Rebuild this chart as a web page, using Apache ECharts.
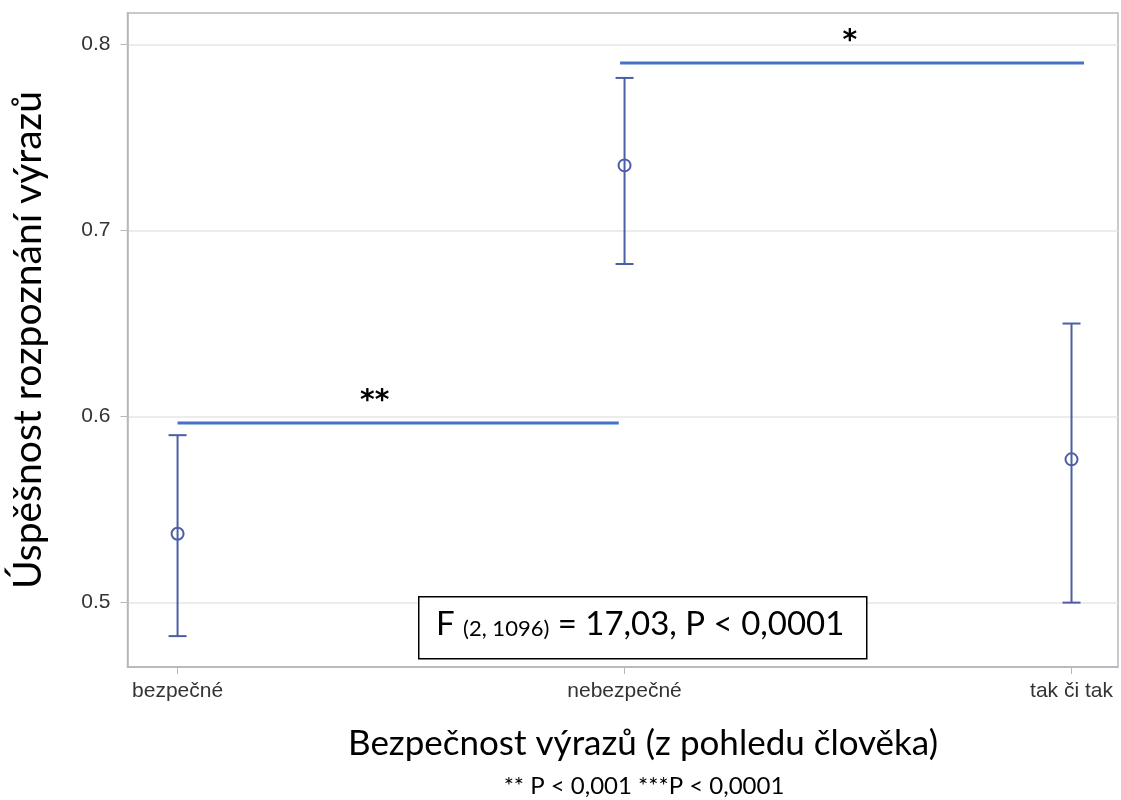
<!DOCTYPE html>
<html><head><meta charset="utf-8">
<script src="https://cdn.jsdelivr.net/npm/echarts@6/dist/echarts.min.js"></script>
<style>html,body{margin:0;padding:0;background:#fff}#c{width:1121px;height:800px}</style>
</head><body><div id="c"></div>
<script>
const categories = ['bezpečné', 'nebezpečné', 'tak či tak'];
const means = [0.537, 0.735, 0.577];
const lowers = [0.482, 0.682, 0.500];
const uppers = [0.590, 0.782, 0.650];
const yTicks = [0.5, 0.6, 0.7, 0.8];
const sigFrom = [0, 0.99];
const sigTo = [0.987, 2.028];
const sigLevel = [0.5965, 0.790];
const sigText = ['**', '*'];
const sigTextX = [0.441, 1.504];

const chart = echarts.init(document.getElementById('c'));
const calibri = 'Lato, "Open Sans", sans-serif';
const tickFont = 'Arial, "Liberation Sans", sans-serif';
chart.setOption({
  animation: false,
  grid: {left: 127.5, right: 3, top: 13, bottom: 133, show: true, borderColor: '#b4b8bd', borderWidth: 1.5},
  xAxis: {
    type: 'value', min: -0.112, max: 2.104,
    axisLine: {show: true, onZero: false, lineStyle: {color: '#b4b8bd', width: 1.5}},
    axisTick: {show: true, length: 7, customValues: [0, 1, 2], lineStyle: {color: '#b4b8bd'}},
    axisLabel: {customValues: [0, 1, 2], formatter: v => categories[Math.round(v)], color: '#333', fontSize: 21, fontFamily: tickFont, margin: 14},
    splitLine: {show: false}
  },
  yAxis: {
    type: 'value', min: 0.4654, max: 0.8169,
    axisLine: {show: true, onZero: false, lineStyle: {color: '#b4b8bd', width: 1.5}},
    axisTick: {show: true, length: 7, customValues: yTicks, lineStyle: {color: '#b4b8bd'}},
    axisLabel: {customValues: yTicks, formatter: v => v.toFixed(1), color: '#333', fontSize: 21, fontFamily: tickFont, margin: 17},
    splitLine: {show: true, lineStyle: {color: '#e6e6e6', width: 1.5}},
    name: 'Úspěšnost rozpoznání výrazů', nameLocation: 'middle', nameGap: 80, nameRotate: 90,
    nameTextStyle: {fontSize: 39, color: '#000', fontFamily: calibri}
  },
  series: [
    {
      type: 'custom',
      data: categories.map((c, i) => [i, means[i], lowers[i], uppers[i]]),
      renderItem: (params, api) => {
        const x = api.value(0);
        const m = api.coord([x, api.value(1)]);
        const lo = api.coord([x, api.value(2)]);
        const hi = api.coord([x, api.value(3)]);
        const st = {stroke: '#4c5ea5', lineWidth: 2, fill: null};
        const r = 6, cw = 9;
        return {type: 'group', children: [
          {type: 'line', shape: {x1: lo[0], y1: lo[1], x2: hi[0], y2: hi[1]}, style: st},
          {type: 'line', shape: {x1: lo[0] - cw, y1: lo[1], x2: lo[0] + cw, y2: lo[1]}, style: st},
          {type: 'line', shape: {x1: hi[0] - cw, y1: hi[1], x2: hi[0] + cw, y2: hi[1]}, style: st},
          {type: 'circle', shape: {cx: m[0], cy: m[1], r: r}, style: {stroke: '#4c5ea5', lineWidth: 2, fill: 'none'}}
        ]};
      }
    },
    {
      type: 'custom',
      data: sigText.map((t, i) => [sigFrom[i], sigTo[i], sigLevel[i], sigTextX[i]]),
      renderItem: (params, api) => {
        const i = params.dataIndex;
        const a = api.coord([api.value(0), api.value(2)]);
        const b = api.coord([api.value(1), api.value(2)]);
        const t = api.coord([api.value(3), api.value(2)]);
        return {type: 'group', children: [
          {type: 'line', shape: {x1: a[0], y1: a[1], x2: b[0], y2: b[1]}, style: {stroke: '#4472c4', lineWidth: 3}},
          {type: 'text', x: t[0], y: a[1] - 21, style: {text: sigText[i], fontSize: 28, fontWeight: 'bold', fontFamily: '"DejaVu Sans", sans-serif', fill: '#000', align: 'center', verticalAlign: 'middle'}}
        ]};
      }
    }
  ],
  graphic: [
    {type: 'rect', left: 418, top: 596, shape: {width: 448, height: 62}, style: {fill: '#fff', stroke: '#000', lineWidth: 1.5}, z: 10},
    {type: 'text', left: 436, top: 608, z: 11, style: {
      rich: {
        a: {fontSize: 33, fontFamily: calibri, fill: '#000'},
        s: {fontSize: 22, fontFamily: calibri, fill: '#000', padding: [8, 0, 0, 0]}
      },
      text: '{a|F }{s|(2, 1096)}{a| = 17,03, P < 0,0001}'
    }},
    {type: 'text', x: 643, y: 744, style: {text: 'Bezpečnost výrazů (z pohledu člověka)', fontSize: 35, fontFamily: calibri, fill: '#000', align: 'center', verticalAlign: 'middle'}},
    {type: 'text', x: 644, y: 786, style: {text: '** P < 0,001 ***P < 0,0001', fontSize: 24, fontFamily: calibri, fill: '#000', align: 'center', verticalAlign: 'middle'}}
  ]
});
</script></body></html>
